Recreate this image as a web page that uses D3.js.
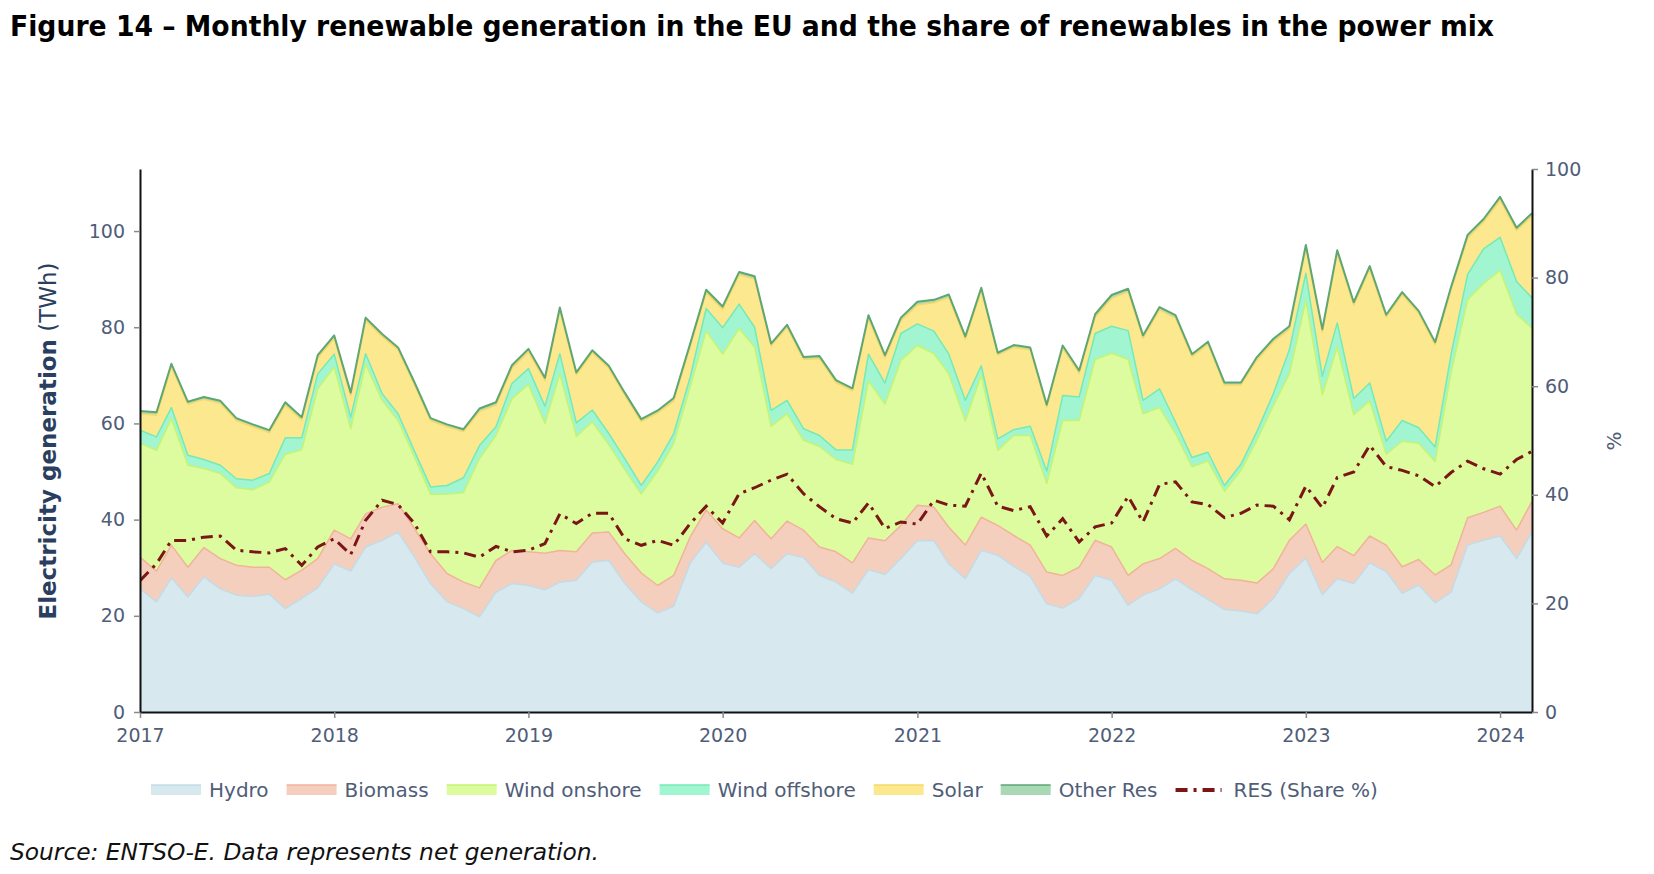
<!DOCTYPE html>
<html>
<head>
<meta charset="utf-8">
<script src="https://cdn.jsdelivr.net/npm/d3@7"></script>
<style>
  body { margin: 0; background: #fff; }
  svg text { font-family: "DejaVu Sans", Verdana, sans-serif; }
</style>
</head>
<body>
<svg id="chart"></svg>
<script>
/* CONSTANTS AND GLOBALS */
const width = 1654,
  height = 874,
  margin = { top: 169, bottom: 162, left: 140, right: 122 };

/* DATA (TWh per month, Jan 2017 - Mar 2024) */
const firstMonth = new Date(2017, 0, 1),
  endMonth = new Date(2024, 3, 1);
const yearTicks = [2017, 2018, 2019, 2020, 2021, 2022, 2023, 2024];
const leftTicks = [0, 20, 40, 60, 80, 100];
const rightTicks = [0, 20, 40, 60, 80, 100];

const hydro = [
  25.6, 22.9, 27.9, 23.9, 28.1, 25.6, 24.3, 24.0, 24.5, 21.5, 23.6, 25.8,
  30.8, 29.3, 34.3, 35.7, 37.4, 32.2, 26.7, 22.9, 21.5, 19.8, 24.9, 26.7,
  26.3, 25.4, 27.0, 27.4, 31.2, 31.5, 26.7, 22.9, 20.6, 22.0, 31.0, 35.3,
  31.0, 30.1, 32.9, 29.8, 32.9, 32.1, 28.4, 27.0, 24.7, 29.6, 28.6, 31.9,
  35.6, 35.6, 30.8, 27.7, 33.6, 32.6, 30.3, 28.2, 22.5, 21.6, 23.6, 28.4,
  27.4, 22.2, 24.3, 25.6, 27.7, 25.4, 23.4, 21.3, 21.0, 20.4, 23.6, 28.8,
  32.0, 24.4, 27.7, 26.7, 31.0, 29.2, 24.7, 26.4, 22.7, 24.9, 34.7, 35.7,
  36.6, 31.9, 37.4
];
const biomass = [
  6.6, 6.4, 6.8, 6.2, 6.1, 6.3, 6.2, 6.1, 5.6, 6.0, 5.9, 6.1,
  7.0, 6.7, 6.9, 6.9, 5.9, 5.9, 6.2, 5.9, 5.5, 6.0, 6.6, 6.9,
  7.0, 7.6, 6.6, 5.9, 6.0, 5.9, 6.2, 6.0, 5.7, 6.4, 5.4, 6.7,
  7.1, 6.1, 6.9, 6.2, 6.8, 5.7, 5.9, 6.3, 6.3, 6.6, 7.0, 6.9,
  7.4, 7.0, 7.6, 7.0, 6.9, 6.2, 6.4, 6.5, 6.6, 6.8, 6.5, 7.3,
  6.9, 6.2, 6.5, 6.3, 6.3, 6.1, 6.4, 6.4, 6.4, 6.4, 6.2, 6.9,
  7.1, 6.7, 6.7, 5.8, 5.6, 5.5, 5.5, 5.3, 5.8, 5.7, 5.7, 5.8,
  6.2, 5.9, 6.4
];
const windOnshore = [
  23.7, 25.1, 26.3, 21.2, 16.4, 17.7, 16.1, 16.1, 17.7, 26.1, 25.0, 35.3,
  33.9, 22.9, 31.1, 22.2, 17.3, 14.9, 12.4, 16.5, 18.6, 26.9, 26.0, 31.5,
  34.8, 27.0, 36.7, 24.0, 23.1, 18.2, 17.5, 16.4, 23.8, 27.4, 31.2, 37.2,
  36.3, 43.5, 36.1, 23.4, 22.3, 18.7, 20.9, 19.2, 20.5, 32.6, 28.4, 34.3,
  33.2, 31.9, 31.9, 25.8, 29.5, 15.6, 20.8, 22.8, 18.4, 32.2, 30.5, 37.6,
  40.3, 44.9, 31.2, 31.4, 23.9, 19.5, 22.4, 18.2, 22.8, 29.7, 33.9, 34.6,
  46.4, 34.8, 41.5, 29.3, 28.1, 18.9, 26.1, 24.2, 23.6, 40.0, 45.3, 47.6,
  49.0, 44.9, 36.0
];
const windOffshore = [
  2.7, 2.8, 2.3, 2.1, 1.9, 1.7, 1.9, 2.0, 1.8, 3.4, 2.5, 3.1,
  2.7, 2.4, 2.2, 1.4, 1.4, 1.2, 1.5, 1.8, 3.1, 2.7, 1.8, 3.2,
  3.3, 3.6, 4.2, 2.8, 2.5, 2.3, 2.3, 1.8, 1.9, 2.1, 2.0, 4.7,
  5.5, 5.1, 4.1, 3.3, 2.8, 2.4, 2.3, 2.0, 3.0, 5.6, 4.4, 5.6,
  4.5, 4.7, 4.1, 4.3, 2.0, 2.4, 1.2, 1.9, 2.6, 5.2, 4.9, 5.4,
  5.6, 6.0, 2.8, 3.9, 2.4, 1.9, 1.8, 1.2, 1.3, 1.8, 2.5, 5.0,
  5.7, 3.9, 5.0, 3.4, 3.7, 2.7, 4.3, 3.2, 3.0, 3.8, 5.3, 7.2,
  6.9, 6.8, 6.3
];
const solar = [
  3.4, 4.5, 8.5, 10.6, 12.5, 12.9, 12.1, 11.1, 8.5, 6.8, 3.7, 3.3,
  3.3, 4.5, 6.9, 11.9, 13.3, 13.8, 13.8, 12.2, 9.6, 7.1, 4.5, 3.2,
  3.5, 5.3, 9.0, 10.0, 11.9, 13.6, 13.2, 13.3, 10.2, 6.8, 6.4, 3.3,
  3.8, 6.1, 10.0, 13.4, 15.2, 14.4, 16.0, 14.0, 12.3, 7.5, 5.2, 2.7,
  3.9, 5.9, 11.8, 12.7, 15.6, 17.4, 17.1, 15.9, 13.3, 9.8, 4.9, 3.4,
  5.8, 8.1, 12.9, 16.4, 21.6, 21.0, 22.5, 20.9, 16.5, 14.9, 10.8, 4.3,
  5.2, 9.2, 14.5, 19.4, 23.7, 25.8, 26.2, 23.8, 21.3, 13.4, 7.6, 5.6,
  7.7, 10.6, 17.0
];
const otherRes = [
  0.6, 0.6, 0.6, 0.5, 0.5, 0.5, 0.5, 0.5, 0.5, 0.6, 0.6, 0.6,
  0.6, 0.6, 0.6, 0.5, 0.5, 0.5, 0.5, 0.5, 0.5, 0.6, 0.6, 0.6,
  0.6, 0.6, 0.6, 0.5, 0.5, 0.5, 0.5, 0.5, 0.5, 0.6, 0.6, 0.6,
  0.6, 0.6, 0.6, 0.5, 0.5, 0.5, 0.5, 0.5, 0.5, 0.6, 0.6, 0.6,
  0.7, 0.6, 0.6, 0.6, 0.6, 0.5, 0.5, 0.5, 0.5, 0.6, 0.6, 0.6,
  0.7, 0.6, 0.6, 0.6, 0.6, 0.5, 0.5, 0.5, 0.5, 0.6, 0.6, 0.6,
  0.7, 0.6, 0.6, 0.6, 0.6, 0.5, 0.5, 0.5, 0.5, 0.6, 0.6, 0.6,
  0.7, 0.6, 0.6
];
// share of renewables in the power mix (%), right axis
const resShare = [
  24.2, 27.3, 31.6, 31.6, 32.2, 32.4, 29.8, 29.5, 29.3, 30.1, 27.0, 30.4,
  31.9, 29.0, 35.3, 39.0, 38.2, 34.7, 29.5, 29.5, 29.3, 28.5, 30.5, 29.5,
  29.8, 31.0, 36.5, 34.7, 36.6, 36.6, 31.9, 30.7, 31.6, 30.7, 34.7, 37.9,
  34.8, 40.2, 41.3, 42.7, 43.8, 40.2, 37.8, 35.6, 34.8, 38.5, 33.8, 35.0,
  34.6, 39.0, 38.1, 37.9, 44.0, 37.9, 37.1, 37.8, 32.4, 35.6, 31.3, 34.1,
  34.8, 39.7, 35.0, 41.9, 42.4, 38.7, 38.2, 35.8, 36.6, 38.1, 37.9, 35.4,
  41.6, 37.6, 43.2, 44.2, 49.1, 45.2, 44.5, 43.5, 41.5, 44.1, 46.2, 44.8,
  43.8, 46.5, 48.0
];

const keys = ["Hydro", "Biomass", "Wind onshore", "Wind offshore", "Solar", "Other Res"];
const seriesValues = [hydro, biomass, windOnshore, windOffshore, solar, otherRes];
const fills = ["#d8e8ef", "#f5cfbd", "#ddfc9f", "#a2f5d1", "#fbe88f", "#a9d9b4"];
const strokes = ["#c3dbe6", "#f1b39a", "#c5f472", "#74eab6", "#f6d868", "#5ea673"];
const shareColor = "#7a1616";

/* BUILD TABLE */
const months = d3.timeMonth.range(firstMonth, endMonth);
const table = months.map((m, i) => {
  const row = { date: m, share: resShare[i] };
  keys.forEach((k, j) => row[k] = seriesValues[j][i]);
  return row;
});
const stacked = d3.stack().keys(keys)(table);

/* SVG */
const svg = d3.select("#chart")
  .attr("width", width)
  .attr("height", height);

// scales
const xScale = d3.scaleTime()
  .domain([firstMonth, months[months.length - 1]])
  .range([margin.left, width - margin.right]);

const yScale = d3.scaleLinear()
  .domain([0, 112.9])
  .range([height - margin.bottom, margin.top]);

const yRight = d3.scaleLinear()
  .domain([0, 100])
  .range([height - margin.bottom, margin.top]);

svg.append("clipPath").attr("id", "plot-clip")
  .append("rect")
  .attr("x", margin.left).attr("y", margin.top - 4)
  .attr("width", width - margin.left - margin.right)
  .attr("height", height - margin.top - margin.bottom + 4);

const plot = svg.append("g").attr("clip-path", "url(#plot-clip)");

// + AREAS
const area = d3.area()
  .x(d => xScale(d.data.date))
  .y0(d => yScale(d[0]))
  .y1(d => yScale(d[1]));

const topLine = d3.line()
  .x(d => xScale(d.data.date))
  .y(d => yScale(d[1]));

plot.selectAll("path.area")
  .data(stacked)
  .join("path")
  .attr("class", "area")
  .attr("fill", (d, i) => fills[i])
  .attr("d", area);

plot.selectAll("path.top")
  .data(stacked)
  .join("path")
  .attr("class", "top")
  .attr("fill", "none")
  .attr("stroke", (d, i) => strokes[i])
  .attr("stroke-width", (d, i) => i === 5 ? 2 : 1.5)
  .attr("stroke-linejoin", "round")
  .attr("d", topLine);

// + SHARE LINE
const shareLine = d3.line()
  .x(d => xScale(d.date))
  .y(d => yRight(d.share));

plot.append("path")
  .datum(table)
  .attr("fill", "none")
  .attr("stroke", shareColor)
  .attr("stroke-width", 3)
  .attr("stroke-dasharray", "12,6,3,6")
  .attr("d", shareLine);

// + AXES
const tickColor = "#4f5d78";

const xAxis = d3.axisBottom(xScale)
  .tickValues(yearTicks.map(y => new Date(y, 0, 1)))
  .tickFormat(d3.timeFormat("%Y"))
  .tickSize(6)
  .tickSizeOuter(0)
  .tickPadding(11);

const yAxis = d3.axisLeft(yScale)
  .tickValues(leftTicks)
  .tickSize(6)
  .tickSizeOuter(0)
  .tickPadding(9);

const yAxisRight = d3.axisRight(yRight)
  .tickValues(rightTicks)
  .tickSize(6)
  .tickSizeOuter(0)
  .tickPadding(7);

function styleAxis(g) {
  g.select(".domain").attr("stroke", "#111").attr("stroke-width", 2);
  g.selectAll(".tick line").attr("stroke", "#8a8a8a").attr("stroke-width", 1.5);
  g.selectAll(".tick text")
    .attr("fill", tickColor)
    .attr("font-size", 19)
    .style("font-family", "'DejaVu Sans', Verdana, sans-serif");
}

svg.append("g")
  .attr("class", "xAxis")
  .attr("transform", `translate(0, ${height - margin.bottom})`)
  .call(xAxis)
  .call(styleAxis);

svg.append("g")
  .attr("class", "yAxis")
  .attr("transform", `translate(${margin.left}, 0)`)
  .call(yAxis)
  .call(styleAxis);

svg.append("g")
  .attr("class", "yAxisRight")
  .attr("transform", `translate(${width - margin.right}, 0)`)
  .call(yAxisRight)
  .call(styleAxis);

// axis titles
const yTitle = svg.append("text")
  .attr("transform", `translate(56, 441) rotate(-90)`)
  .attr("text-anchor", "middle")
  .attr("fill", "#2a3f5f")
  .attr("font-size", 23);
yTitle.append("tspan").attr("font-weight", "bold").text("Electricity generation");
yTitle.append("tspan").text(" (TWh)");

svg.append("text")
  .attr("transform", `translate(1621, 441) rotate(-90)`)
  .attr("text-anchor", "middle")
  .attr("fill", tickColor)
  .attr("font-size", 20)
  .text("%");

// title + source
svg.append("text")
  .attr("x", 10)
  .attr("y", 36)
  .attr("font-size", 28)
  .attr("font-weight", "bold")
  .attr("fill", "#000")
  .style("font-family", "'DejaVu Sans Condensed', 'DejaVu Sans', sans-serif")
  .attr("textLength", 1484)
  .attr("lengthAdjust", "spacingAndGlyphs")
  .text("Figure 14 \u2013 Monthly renewable generation in the EU and the share of renewables in the power mix");

svg.append("text")
  .attr("x", 10)
  .attr("y", 860)
  .attr("font-size", 23)
  .attr("font-style", "italic")
  .attr("fill", "#111")
  .style("font-family", "'DejaVu Sans Condensed', 'DejaVu Sans', sans-serif")
  .attr("textLength", 589)
  .attr("lengthAdjust", "spacingAndGlyphs")
  .text("Source: ENTSO-E. Data represents net generation.");

// + LEGEND
const legendItems = keys.map((k, i) => ({ name: k, fill: fills[i], stroke: strokes[i], type: "area" }))
  .concat([{ name: "RES (Share %)", type: "line" }]);

const legend = svg.append("g").attr("class", "legend");
let lx = 151;
const ly = 790;
legendItems.forEach(item => {
  const g = legend.append("g");
  if (item.type === "area") {
    g.append("rect")
      .attr("x", lx).attr("y", ly - 5)
      .attr("width", 50).attr("height", 10)
      .attr("fill", item.fill);
    g.append("line")
      .attr("x1", lx).attr("x2", lx + 50)
      .attr("y1", ly - 5).attr("y2", ly - 5)
      .attr("stroke", item.stroke).attr("stroke-width", 1.5);
  } else {
    g.append("line")
      .attr("x1", lx).attr("x2", lx + 46)
      .attr("y1", ly).attr("y2", ly)
      .attr("stroke", shareColor)
      .attr("stroke-width", 4)
      .attr("stroke-dasharray", "12,6,3,6");
  }
  const t = g.append("text")
    .attr("x", lx + 58)
    .attr("y", ly)
    .attr("dy", "0.35em")
    .attr("font-size", 20)
    .attr("fill", tickColor)
    .text(item.name);
  lx += 58 + t.node().getComputedTextLength() + 18;
});
</script>
</body>
</html>
